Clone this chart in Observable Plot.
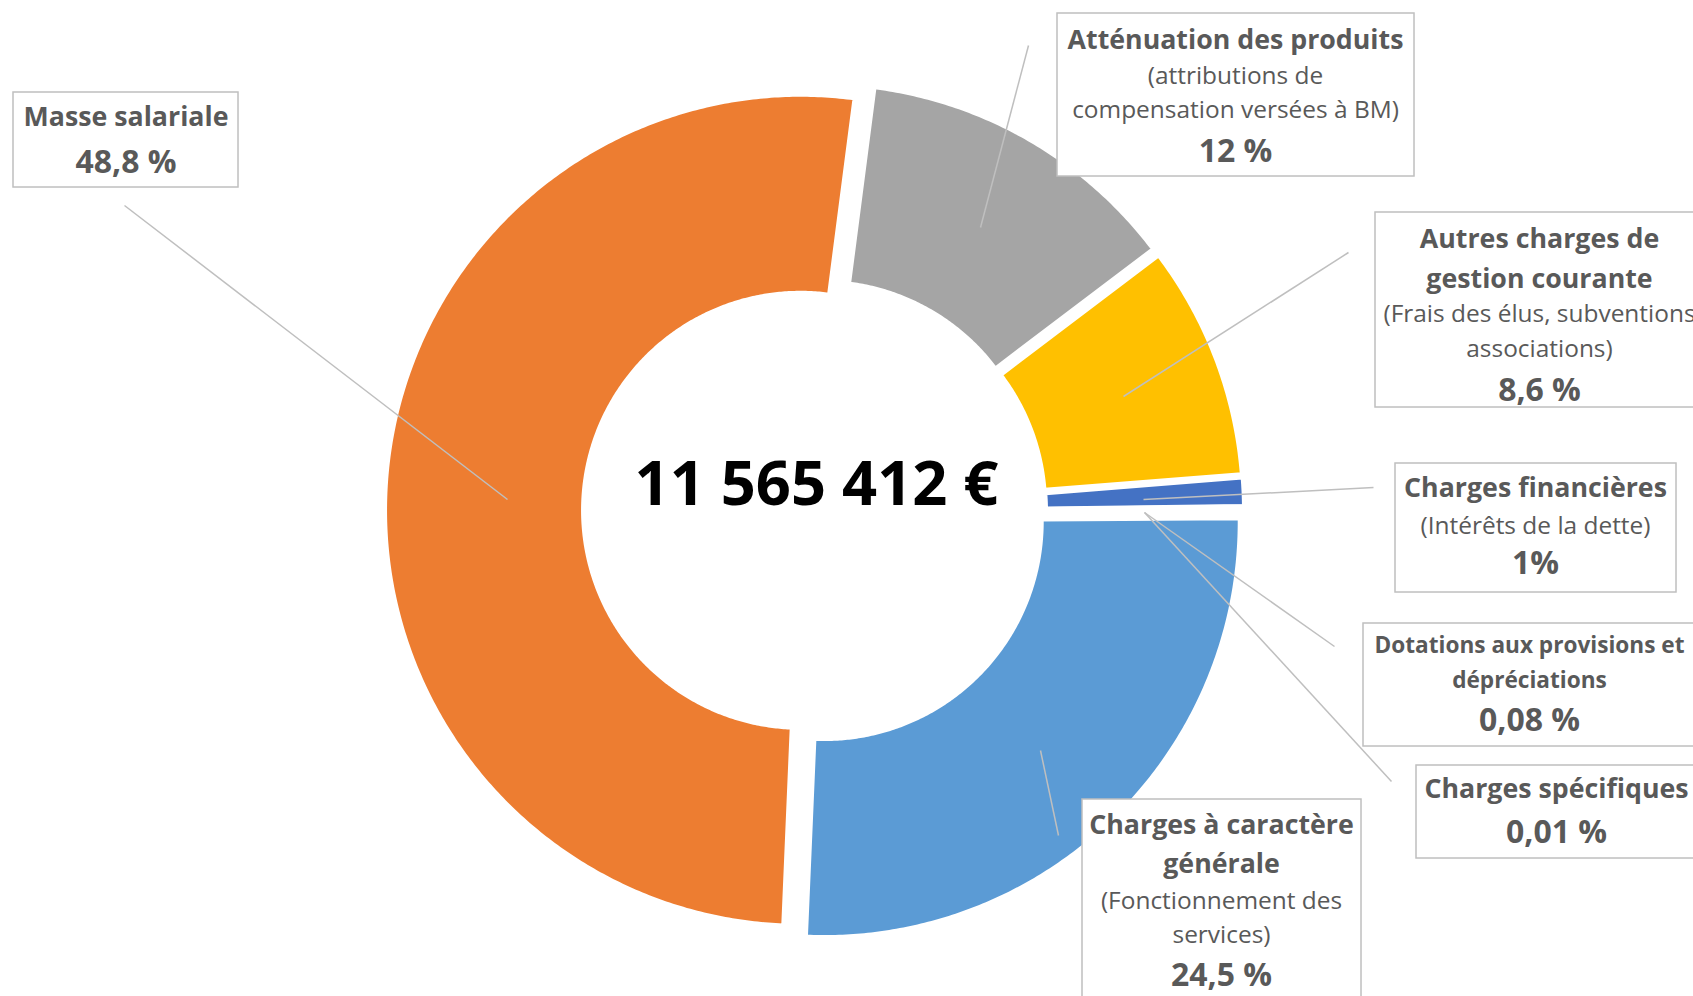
<!DOCTYPE html>
<html>
<head>
<meta charset="utf-8">
<script src="https://cdn.jsdelivr.net/npm/d3@7"></script>
<script src="https://cdn.jsdelivr.net/npm/@observablehq/plot@0.6"></script>
<style>
  html, body { margin: 0; padding: 0; background: #ffffff; overflow: hidden; }
</style>
</head>
<body>
<div id="chart"></div>
<script>
// ---------- DATA ----------
const categories = [
  "Atténuation des produits",
  "Autres charges de gestion courante",
  "Charges financières",
  "Dotations aux provisions et dépréciations",
  "Charges spécifiques",
  "Charges à caractère générale",
  "Masse salariale"
];
const shares = [12, 8.6, 1, 0.08, 0.01, 24.5, 48.8];
const percentLabels = ["12 %", "8,6 %", "1%", "0,08 %", "0,01 %", "24,5 %", "48,8 %"];
const titleLines = [
  ["Atténuation des produits"],
  ["Autres charges de", "gestion courante"],
  ["Charges financières"],
  ["Dotations aux provisions et", "dépréciations"],
  ["Charges spécifiques"],
  ["Charges à caractère", "générale"],
  ["Masse salariale"]
];
const noteLines = [
  ["(attributions de", "compensation versées à BM)"],
  ["(Frais des élus, subventions", "associations)"],
  ["(Intérêts de la dette)"],
  [],
  [],
  ["(Fonctionnement des", "services)"],
  []
];
const sliceColors = ["#A5A5A5", "#FFC000", "#4472C4", "#70AD47", "#264478", "#5B9BD5", "#ED7D31"];
const totalLabel = "11 565 412 €";

// ---------- LAYOUT ----------
const W = 1693, H = 996;
const FONT = "'Open Sans'";
const donut = {cx: 814, cy: 511, rOuter: 415, rInner: 218, explode: 14, startDeg: 7.4};

// font sizes fitted so that reference strings get the widths measured on the original
function fitSize(text, weight, target) {
  const ctx = document.createElement("canvas").getContext("2d");
  ctx.font = `${weight} 100px ${FONT}`;
  return 100 * target / ctx.measureText(text).width;
}
const titleSize = fitSize("Masse salariale", "bold", 205);
const smallTitleSize = fitSize("Dotations aux provisions et", "bold", 310);
const noteSize = fitSize("compensation versées à BM)", "normal", 327);
const pctSize = fitSize("48,8 %", "bold", 101);
const totalSize = fitSize(totalLabel, "bold", 364);

const labelLayout = [
  {x: 1235, lineY: [40, 75.6, 110, 151], box: [1057, 13, 1414, 176], leader: [1028, 45, 980, 227], titleSize},
  {x: 1539, lineY: [238.6, 278.6, 314, 348.7, 389.8], box: [1375, 212, 1710, 407], leader: [1348, 252, 1123, 396], titleSize},
  {x: 1535, lineY: [488, 525.8, 563.6], box: [1395, 463, 1676, 592], leader: [1373, 487, 1143, 499], titleSize},
  {x: 1529, lineY: [645.7, 680, 720], box: [1363, 623, 1710, 746], leader: [1334, 646, 1144, 512], titleSize: smallTitleSize},
  {x: 1556, lineY: [789, 832], box: [1416, 765, 1710, 858], leader: [1391, 781, 1144, 512], titleSize},
  {x: 1221, lineY: [825, 864, 900.5, 935, 975], box: [1082, 799, 1361, 1010], leader: [1058, 835, 1040, 750], titleSize},
  {x: 125.5, lineY: [116.6, 162], box: [13, 92, 238, 187], leader: [124, 205, 507, 499], titleSize}
];
const labelColor = "#595959";

// ---------- BUILD ----------
const rows = categories.map((c, i) => ({category: c, share: shares[i]}));
const toRad = Math.PI / 180;
const arcs = d3.pie().sort(null).value(d => d.share)
  .startAngle(donut.startDeg * toRad)
  .endAngle(donut.startDeg * toRad + 2 * Math.PI)(rows);

const slicePts = arcs.flatMap(a => {
  const mid = (a.startAngle + a.endAngle) / 2;
  const ox = donut.explode * Math.sin(mid), oy = -donut.explode * Math.cos(mid);
  const n = Math.max(2, Math.ceil((a.endAngle - a.startAngle) / (0.5 * toRad)));
  const pts = [];
  const pt = (r, t) => ({category: a.data.category, x: donut.cx + ox + r * Math.sin(t), y: donut.cy + oy - r * Math.cos(t)});
  for (let i = 0; i <= n; i++) pts.push(pt(donut.rOuter, a.startAngle + (a.endAngle - a.startAngle) * i / n));
  for (let i = n; i >= 0; i--) pts.push(pt(donut.rInner, a.startAngle + (a.endAngle - a.startAngle) * i / n));
  return pts;
});

const boxes = labelLayout.map((l, i) => ({category: categories[i], x1: l.box[0], y1: l.box[1], x2: l.box[2], y2: l.box[3]}));
const leaders = labelLayout.map((l, i) => ({category: categories[i], x1: l.leader[0], y1: l.leader[1], x2: l.leader[2], y2: l.leader[3]}));

const boldLines = [], regularLines = [];
categories.forEach((c, i) => {
  const l = labelLayout[i];
  let k = 0;
  titleLines[i].forEach(t => boldLines.push({text: t, x: l.x, y: l.lineY[k++], size: l.titleSize}));
  noteLines[i].forEach(t => regularLines.push({text: t, x: l.x, y: l.lineY[k++], size: noteSize}));
  boldLines.push({text: percentLabels[i], x: l.x, y: l.lineY[k++], size: pctSize});
});

const chart = Plot.plot({
  width: W,
  height: H,
  margin: 0,
  x: {domain: [0, W], range: [0, W], axis: null},
  y: {domain: [0, H], range: [0, H], axis: null},
  color: {domain: categories, range: sliceColors},
  style: {background: "#ffffff", fontFamily: `${FONT}, sans-serif`},
  marks: [
    Plot.line(slicePts, {x: "x", y: "y", z: "category", fill: "category", stroke: "#ffffff", strokeWidth: 3, curve: "linear-closed"}),
    Plot.link(leaders, {x1: "x1", y1: "y1", x2: "x2", y2: "y2", stroke: "#bfbfbf", strokeWidth: 1.5}),
    Plot.rect(boxes, {x1: "x1", y1: "y1", x2: "x2", y2: "y2", fill: "#ffffff", stroke: "#bfbfbf", strokeWidth: 1.5}),
    Plot.text(boldLines, {x: "x", y: "y", text: "text", fontSize: "size", fontWeight: "bold", fill: labelColor, textAnchor: "middle", lineAnchor: "middle"}),
    Plot.text(regularLines, {x: "x", y: "y", text: "text", fontSize: "size", fill: labelColor, textAnchor: "middle", lineAnchor: "middle"}),
    Plot.text([totalLabel], {x: () => donut.cx + 2, y: () => donut.cy - 26, text: d => d, fontSize: totalSize, fontWeight: "bold", fill: "#000000", textAnchor: "middle", lineAnchor: "middle"})
  ]
});
document.getElementById("chart").appendChild(chart);
</script>
</body>
</html>
